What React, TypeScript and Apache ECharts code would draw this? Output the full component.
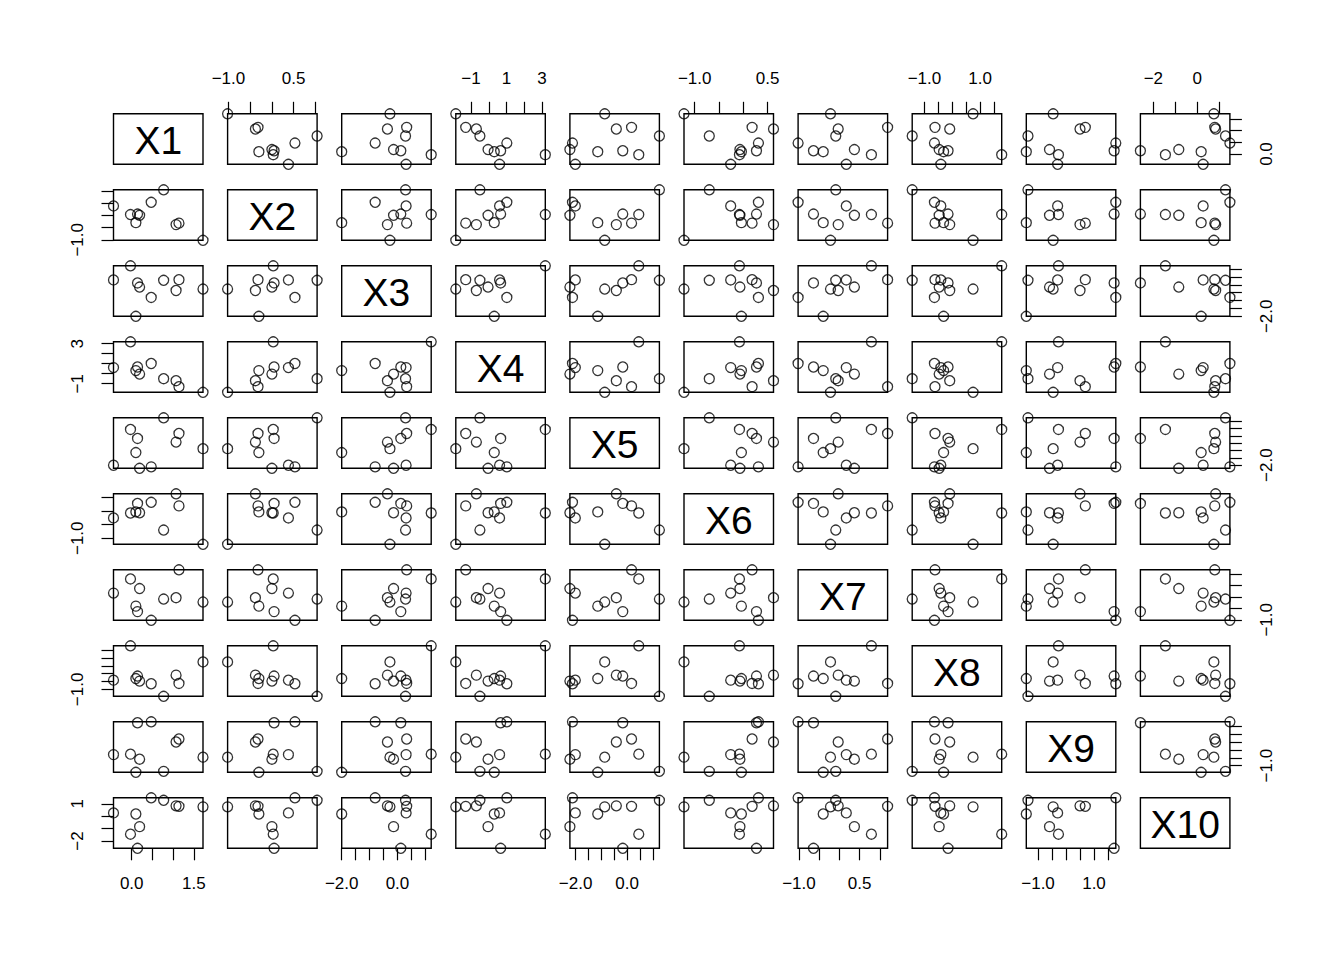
import React, { useEffect, useRef } from "react";
import * as echarts from "echarts";

// Variable names (diagonal labels)
const NAMES = ["X1", "X2", "X3", "X4", "X5", "X6", "X7", "X8", "X9", "X10"];

const X1 = [-0.44, -0.03, 0.14, 0.19, 0.1, 0.47, 0.77, 1.07, 1.14, 1.72];
const X2 = [0.38, 0.03, 0.05, 0.0, -0.3, 0.53, 1.04, -0.38, -0.32, -1.02];
const X3 = [0.31, 1.21, 0.12, -0.14, -2.0, -0.8, 0.29, -0.36, 0.33, -0.27];
const X4 = [0.61, 3.19, 0.67, -0.04, 0.31, 1.02, -0.5, -0.7, -1.3, -1.86];
const X5 = [-2.01, 0.45, -0.17, -2.22, -1.14, -2.12, 1.25, -0.42, 0.17, -0.87];
const X6 = [-0.26, -0.08, 0.27, -0.07, -0.04, 0.31, -0.7, 0.62, 0.18, -1.22];
const X7 = [0.17, 0.79, -0.64, 0.37, -0.4, -1.02, -0.09, -0.03, 1.19, -0.22];
const X8 = [-0.41, 1.78, -0.15, -0.47, -0.31, -0.64, -1.44, -0.09, -0.62, 0.75];
const X9 = [-0.3, -0.27, 1.72, -0.59, -1.42, 1.78, -1.36, 0.5, 0.69, -0.46];
const X10 = [0.27, -1.45, -2.59, -0.84, 0.18, 1.49, 1.29, 0.84, 0.8, 0.76];
const VARS = [X1, X2, X3, X4, X5, X6, X7, X8, X9, X10];

// Axis ranges (data range, no padding)
const MINS = [-0.44, -1.02, -2.0, -1.86, -2.22, -1.22, -1.02, -1.44, -1.42, -2.59];
const MAXS = [1.72, 1.04, 1.21, 3.19, 1.25, 0.62, 1.19, 1.78, 1.78, 1.49];

// Tick positions and the labels that are shown
const TICKS = [
  [0, 0.5, 1, 1.5],
  [-1, -0.5, 0, 0.5, 1],
  [-2, -1.5, -1, -0.5, 0, 0.5, 1],
  [-1, 0, 1, 2, 3],
  [-2, -1.5, -1, -0.5, 0, 0.5, 1],
  [-1, -0.5, 0, 0.5],
  [-1, -0.5, 0, 0.5, 1],
  [-1, -0.5, 0, 0.5, 1, 1.5],
  [-1, -0.5, 0, 0.5, 1, 1.5],
  [-2, -1, 0, 1],
];
const H_LABELS = [[0, 1.5], [-1, 0.5], [-2, 0], [-1, 1, 3], [-2, 0], [-1, 0.5], [-1, 0.5], [-1, 1], [-1, 1], [-2, 0]];
const V_LABELS = [[0], [-1], [-2], [-1, 3], [-2], [-1], [-1], [-1], [-1], [-2, 1]];
const DECIMALS = [1, 1, 1, 0, 1, 1, 1, 1, 1, 0];

// Layout
const LEFT0 = 113.5;
const STEPX = 114.1;
const CELL_W = 89.5;
const TOP0 = 113.8;
const STEPY = 76.0;
const CELL_H = 50.5;
const N = 10;
const FONT = "Liberation Sans";
const TICK_FONT = 17;

function fmt(v: number, k: number) {
  return Number(v).toFixed(DECIMALS[k]).replace("-", "\u2212");
}

function buildOption() {
  const grid: any[] = [];
  const xAxis: any[] = [];
  const yAxis: any[] = [];
  const series: any[] = [];
  const graphic: any[] = [];

  for (let i = 0; i < N; i++) {
    for (let j = 0; j < N; j++) {
      const gi = grid.length;
      const left = LEFT0 + j * STEPX;
      const top = TOP0 + i * STEPY;
      grid.push({
        left,
        top,
        width: CELL_W,
        height: CELL_H,
        show: true,
        borderColor: "#000",
        borderWidth: 1.4,
        backgroundColor: "transparent",
        containLabel: false,
      });
      if (i === j) {
        xAxis.push({ type: "value", gridIndex: gi, min: 0, max: 1, show: false });
        yAxis.push({ type: "value", gridIndex: gi, min: 0, max: 1, show: false });
        graphic.push({
          type: "text",
          x: left + CELL_W / 2,
          y: top + CELL_H / 2 + 1,
          silent: true,
          style: {
            text: NAMES[i],
            fontSize: 39,
            fontFamily: FONT,
            fill: "#000",
            align: "center",
            verticalAlign: "middle",
          },
        });
        continue;
      }
      const showTop = i === 0 && j % 2 === 1;
      const showBottom = i === N - 1 && j % 2 === 0;
      const showX = showTop || showBottom;
      xAxis.push({
        type: "value",
        gridIndex: gi,
        min: MINS[j],
        max: MAXS[j],
        position: showTop ? "top" : "bottom",
        axisLine: { show: false, onZero: false },
        splitLine: { show: false },
        axisTick: {
          show: showX,
          inside: false,
          customValues: TICKS[j],
          length: 12,
          lineStyle: { color: "#000", width: 1.2 },
        },
        axisLabel: {
          show: showX,
          customValues: H_LABELS[j],
          formatter: (v: number) => fmt(v, j),
          margin: 27,
          color: "#000",
          fontSize: TICK_FONT,
          fontFamily: FONT,
          hideOverlap: false,
        },
      });
      const showLeft = j === 0 && i % 2 === 1;
      const showRight = j === N - 1 && i % 2 === 0;
      const showY = showLeft || showRight;
      yAxis.push({
        type: "value",
        gridIndex: gi,
        min: MINS[i],
        max: MAXS[i],
        position: showRight ? "right" : "left",
        axisLine: { show: false, onZero: false },
        splitLine: { show: false },
        axisTick: {
          show: showY,
          inside: false,
          customValues: TICKS[i],
          length: 12,
          lineStyle: { color: "#000", width: 1.2 },
        },
        axisLabel: {
          show: showY,
          customValues: V_LABELS[i],
          formatter: (v: number) => fmt(v, i),
          rotate: 90,
          margin: 28,
          color: "#000",
          fontSize: TICK_FONT,
          fontFamily: FONT,
          hideOverlap: false,
        },
      });
      const xs = VARS[j];
      const ys = VARS[i];
      series.push({
        type: "scatter",
        xAxisIndex: gi,
        yAxisIndex: gi,
        clip: true,
        silent: true,
        symbol: "circle",
        symbolSize: 10,
        itemStyle: { color: "rgba(0,0,0,0)", borderColor: "#000", borderWidth: 1.3 },
        data: xs.map((x, k) => [x, ys[k]]),
      });
    }
  }

  return {
    animation: false,
    backgroundColor: "#fff",
    grid,
    xAxis,
    yAxis,
    series,
    graphic,
  };
}

export default function App() {
  const ref = useRef<HTMLDivElement>(null);
  useEffect(() => {
    if (!ref.current) return;
    const chart = echarts.init(ref.current, undefined, { renderer: "svg" });
    chart.setOption(buildOption() as any);
    return () => chart.dispose();
  }, []);
  return (
    <div
      ref={ref}
      style={{ position: "absolute", left: 0, top: 0, width: 1344, height: 960, background: "#fff" }}
    />
  );
}
